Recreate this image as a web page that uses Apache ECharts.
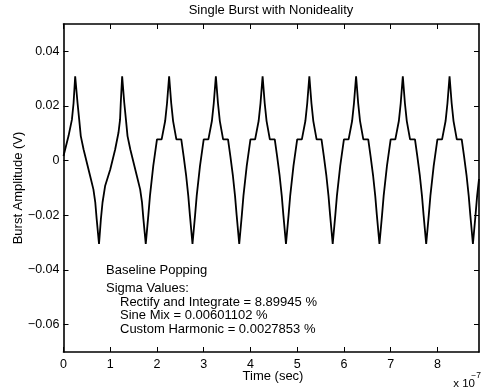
<!DOCTYPE html>
<html>
<head>
<meta charset="utf-8">
<script src="https://cdn.jsdelivr.net/npm/echarts@6/dist/echarts.min.js"></script>
<style>
html,body{margin:0;padding:0;background:#fff;}
#chart{width:482px;height:391px;}
</style>
</head>
<body>
<div id="chart"></div>
<script>
// Time in units of 1e-7 s
var timeE7 = [
  0.00, 0.107, 0.18, 0.215, 0.25, 0.30, 0.336, 0.37, 0.43, 0.57, 0.64, 0.68, 0.71, 0.76,
  0.80, 0.835, 0.89, 1.00, 1.105, 1.176, 1.21, 1.225, 1.255,
  1.30, 1.336, 1.37, 1.43, 1.57, 1.64, 1.68, 1.71, 1.76,
  1.815, 1.85, 1.92,
  2.00, 2.10, 2.175, 2.215, 2.26, 2.305, 2.345, 2.415, 2.52, 2.57, 2.625, 2.67, 2.705, 2.76, 2.815, 2.85, 2.92,
  3.00, 3.10, 3.175, 3.215, 3.26, 3.305, 3.345, 3.415, 3.52, 3.57, 3.625, 3.67, 3.705, 3.76, 3.815, 3.85, 3.92,
  4.00, 4.10, 4.175, 4.215, 4.26, 4.305, 4.345, 4.415, 4.52, 4.57, 4.625, 4.67, 4.705, 4.76, 4.815, 4.85, 4.92,
  5.00, 5.10, 5.175, 5.215, 5.26, 5.305, 5.345, 5.415, 5.52, 5.57, 5.625, 5.67, 5.705, 5.76, 5.815, 5.85, 5.92,
  6.00, 6.10, 6.175, 6.215, 6.26, 6.305, 6.345, 6.415, 6.52, 6.57, 6.625, 6.67, 6.705, 6.76, 6.815, 6.85, 6.92,
  7.00, 7.10, 7.175, 7.215, 7.26, 7.305, 7.345, 7.415, 7.52, 7.57, 7.625, 7.67, 7.705, 7.76, 7.815, 7.85, 7.92,
  8.00, 8.10, 8.175, 8.215, 8.26, 8.305, 8.345, 8.415, 8.52, 8.57, 8.625, 8.67, 8.705, 8.76, 8.815, 8.85, 8.89
];
// Burst amplitude in volts
var amplitudeV = [
  0.0017, 0.009, 0.015, 0.021, 0.0309, 0.0212, 0.015, 0.009, 0.0041, -0.0056, -0.0105, -0.0153, -0.0214, -0.0305,
  -0.0214, -0.0153, -0.0093, -0.0032, 0.0041, 0.0102, 0.015, 0.021, 0.0309,
  0.0212, 0.015, 0.009, 0.0041, -0.0056, -0.0105, -0.0153, -0.0214, -0.0305,
  -0.020, -0.0129, -0.002,
  0.0078, 0.0078, 0.0145, 0.021, 0.0309, 0.021, 0.0145, 0.0078, 0.0078, 0.0017, -0.0056, -0.0129, -0.020, -0.0305, -0.020, -0.0129, -0.002,
  0.0078, 0.0078, 0.0145, 0.021, 0.0309, 0.021, 0.0145, 0.0078, 0.0078, 0.0017, -0.0056, -0.0129, -0.020, -0.0305, -0.020, -0.0129, -0.002,
  0.0078, 0.0078, 0.0145, 0.021, 0.0309, 0.021, 0.0145, 0.0078, 0.0078, 0.0017, -0.0056, -0.0129, -0.020, -0.0305, -0.020, -0.0129, -0.002,
  0.0078, 0.0078, 0.0145, 0.021, 0.0309, 0.021, 0.0145, 0.0078, 0.0078, 0.0017, -0.0056, -0.0129, -0.020, -0.0305, -0.020, -0.0129, -0.002,
  0.0078, 0.0078, 0.0145, 0.021, 0.0309, 0.021, 0.0145, 0.0078, 0.0078, 0.0017, -0.0056, -0.0129, -0.020, -0.0305, -0.020, -0.0129, -0.002,
  0.0078, 0.0078, 0.0145, 0.021, 0.0309, 0.021, 0.0145, 0.0078, 0.0078, 0.0017, -0.0056, -0.0129, -0.020, -0.0305, -0.020, -0.0129, -0.002,
  0.0078, 0.0078, 0.0145, 0.021, 0.0309, 0.021, 0.0145, 0.0078, 0.0078, 0.0017, -0.0056, -0.0129, -0.020, -0.0305, -0.020, -0.0129, -0.0067
];
var xTicks = [0, 1, 2, 3, 4, 5, 6, 7, 8];
var yTicks = [-0.06, -0.04, -0.02, 0, 0.02, 0.04];
var titleText = 'Single Burst with Nonideality';
var xName = 'Time (sec)';
var yName = 'Burst Amplitude (V)';
var noteLines = ['Baseline Popping', 'Sigma Values:'];
var sigmaLines = ['Rectify and Integrate = 8.89945 %', 'Sine Mix = 0.00601102 %', 'Custom Harmonic = 0.0027853 %'];

var FONT = "'Liberation Sans', Arial, Helvetica, sans-serif";
var seriesData = timeE7.map(function (t, i) { return [t, amplitudeV[i]]; });

function yFmt(v) {
  if (Math.abs(v) < 1e-12) return '0';
  var s = Math.abs(v).toFixed(2);
  return (v < 0 ? '\u2212' : '') + s;
}

var axisLineStyle = { color: '#000', width: 1.6 };
var chart = echarts.init(document.getElementById('chart'), null, { renderer: 'canvas' });
var tickStyle = { color: '#000', width: 1 };

function txt(x, y, text, size, align) {
  return { type: 'text', x: x, y: y, style: { x: 0, y: 0, text: text, fill: '#000', font: size + 'px ' + FONT, align: align || 'left', verticalAlign: 'middle' } };
}

var yLabel = txt(18, 188, yName, 13, 'center');
yLabel.rotation = Math.PI / 2;

chart.setOption({
  animation: false,
  backgroundColor: '#fff',
  grid: { left: 63.5, right: 3, top: 24, bottom: 39, containLabel: false },
  xAxis: [
    {
      type: 'value', min: 0, max: 8.89, position: 'bottom',
      axisLine: { show: true, onZero: false, lineStyle: axisLineStyle },
      axisTick: { show: true, inside: true, length: 5, lineStyle: tickStyle, customValues: xTicks },
      axisLabel: { show: true, color: '#000', fontSize: 12.5, fontFamily: FONT, margin: 6, customValues: xTicks,
        formatter: function (v) { return String(Math.round(v)); } },
      splitLine: { show: false }
    },
    {
      type: 'value', min: 0, max: 8.89, position: 'top',
      axisLine: { show: true, onZero: false, lineStyle: axisLineStyle },
      axisTick: { show: true, inside: true, length: 5, lineStyle: tickStyle, customValues: xTicks },
      axisLabel: { show: false },
      splitLine: { show: false }
    }
  ],
  yAxis: [
    {
      type: 'value', min: -0.07, max: 0.05, position: 'left',
      axisLine: { show: true, onZero: false, lineStyle: axisLineStyle },
      axisTick: { show: true, inside: true, length: 5, lineStyle: tickStyle, customValues: yTicks },
      axisLabel: { show: true, color: '#000', fontSize: 12.5, fontFamily: FONT, margin: 4, customValues: yTicks, formatter: yFmt },
      splitLine: { show: false }
    },
    {
      type: 'value', min: -0.07, max: 0.05, position: 'right',
      axisLine: { show: true, onZero: false, lineStyle: axisLineStyle },
      axisTick: { show: true, inside: true, length: 5, lineStyle: tickStyle, customValues: yTicks },
      axisLabel: { show: false },
      splitLine: { show: false }
    }
  ],
  series: [{
    type: 'line',
    xAxisIndex: 0, yAxisIndex: 0,
    data: seriesData,
    showSymbol: false,
    symbol: 'none',
    lineStyle: { color: '#000', width: 1.8 },
    clip: true
  }],
  graphic: [
    txt(271, 10, titleText, 13, 'center'),
    yLabel,
    txt(273, 376, xName, 13, 'center'),
    txt(475, 384, 'x 10', 11.5, 'right'),
    txt(481, 376, '\u22127', 8.5, 'right'),
    txt(106, 270, noteLines[0], 13),
    txt(106, 288, noteLines[1], 13),
    txt(120, 302, sigmaLines[0], 13),
    txt(120, 315, sigmaLines[1], 13),
    txt(120, 329, sigmaLines[2], 13)
  ]
});
</script>
</body>
</html>
